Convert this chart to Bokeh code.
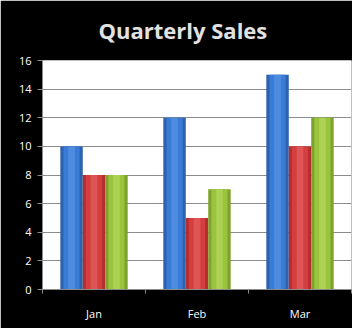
from bokeh.plotting import figure
from bokeh.models import FixedTicker, ColumnDataSource
from bokeh.embed import file_html
from bokeh.resources import INLINE

categories = ["Jan", "Feb", "Mar"]
series_a = [10, 12, 15]
series_b = [8, 5, 10]
series_c = [8, 7, 12]
y_ticks = [0, 2, 4, 6, 8, 10, 12, 14, 16]
title_text = "Quarterly Sales"

series = [series_a, series_b, series_c]
offsets = [-0.218, 0.0, 0.218]
bar_w = 0.218
# (edge colour, mid colour, highlight colour)
palettes = [("#2C62B0", "#3A7BD5", "#5C97E6"),
            ("#B52E2E", "#D43E3E", "#E56666"),
            ("#7EA22C", "#9BC43E", "#B7DA63")]

p = figure(width=352, height=328, output_backend="svg", toolbar_location=None,
           x_range=(0, 3), y_range=(0, 16),
           min_border_left=42, min_border_right=1, min_border_top=60, min_border_bottom=39)
p.border_fill_color = "black"
p.background_fill_color = "white"
p.outline_line_color = None

p.title.text = title_text
p.title.text_color = "#E2E2E2"
p.title.text_font = "Open Sans"
p.title.text_font_style = "bold"
p.title.text_font_size = "22px"
p.title.text_line_height = 0.9
p.title.align = "left"
p.title.offset = 56
p.title.standoff = 28
p.title.vertical_align = "top"

for vals, off, (c_edge, c_mid, c_hi) in zip(series, offsets, palettes):
    xs = [i + 0.5 + off for i in range(len(categories))]
    src = ColumnDataSource(dict(x=xs, top=vals))
    p.vbar(x="x", top="top", bottom=0, width=bar_w, source=src,
           fill_color=c_edge, line_color=None)
    p.vbar(x="x", top="top", bottom=0, width=bar_w * 0.72, source=src,
           fill_color=c_mid, line_color=None)
    p.vbar(x="x", top="top", bottom=0, width=bar_w * 0.3, source=src,
           fill_color=c_hi, line_color=None, fill_alpha=0.6)

p.xgrid.grid_line_color = None
p.ygrid.grid_line_color = "#8C8C8C"
p.ygrid.ticker = FixedTicker(ticks=y_ticks)

p.yaxis.ticker = FixedTicker(ticks=y_ticks)
p.yaxis.axis_line_color = "#8C8C8C"
p.yaxis.major_tick_line_color = "#8C8C8C"
p.yaxis.major_tick_out = 5
p.yaxis.major_tick_in = 0
p.yaxis.minor_tick_line_color = None
p.yaxis.major_label_text_color = "white"
p.yaxis.major_label_text_font = "Open Sans"
p.yaxis.major_label_text_font_size = "11px"
p.yaxis.major_label_standoff = 6

centers = [i + 0.5 for i in range(len(categories))]
bounds = [float(i) for i in range(len(categories) + 1)]
p.xaxis.ticker = FixedTicker(ticks=centers, minor_ticks=bounds)
p.xaxis.major_label_overrides = {c: lab for c, lab in zip(centers, categories)}
p.xaxis.axis_line_color = "#8C8C8C"
p.xaxis.major_tick_line_color = None
p.xaxis.minor_tick_line_color = "#8C8C8C"
p.xaxis.minor_tick_out = 4
p.xaxis.minor_tick_in = 0
p.xaxis.major_label_text_color = "white"
p.xaxis.major_label_text_font = "Open Sans"
p.xaxis.major_label_text_font_size = "11px"
p.xaxis.major_label_standoff = 10

open("out.html", "w").write(file_html(p, INLINE))
